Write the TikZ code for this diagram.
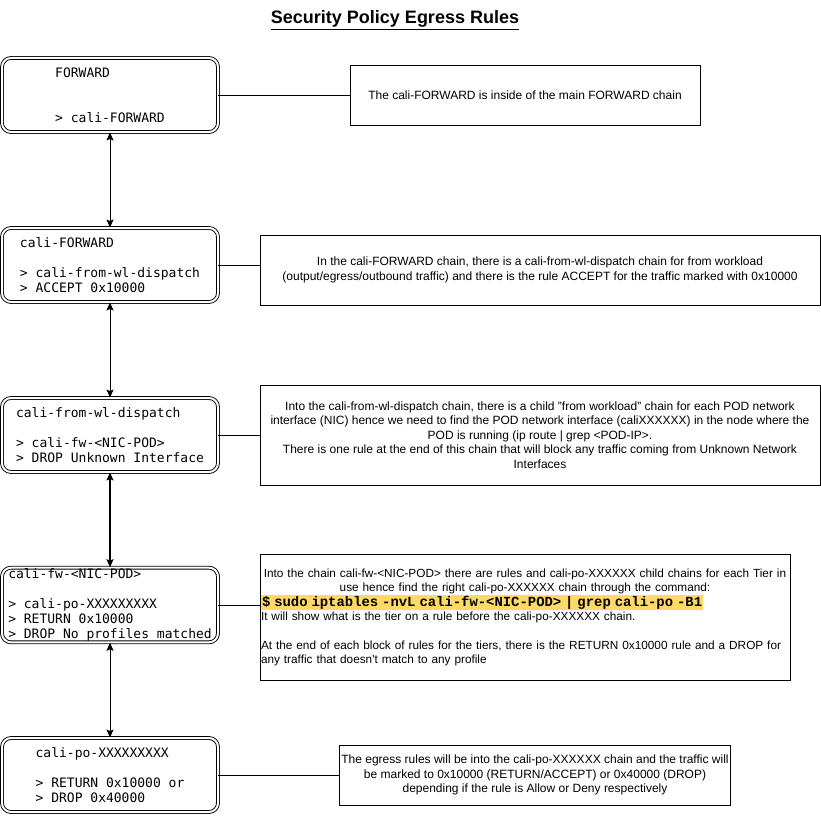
\documentclass[tikz,border=0pt]{standalone}
\usepackage{fontspec}
\setmainfont{Liberation Sans}
\newfontfamily\chainfont{DejaVu Sans Mono}
\newfontfamily\cmdfont{Liberation Mono}
\usetikzlibrary{arrows.meta,positioning}
\definecolor{cmdhl}{HTML}{FFD966}

\begin{document}
\begin{tikzpicture}[
  x=1pt, y=-1pt,
  chainbox/.style={draw, double, double distance=2pt, line width=0.9pt, rounded corners=9pt, minimum width=216pt, minimum height=74pt, inner sep=1pt, align=left, font=\chainfont\fontsize{13}{15}\selectfont},
  note/.style={draw, line width=0.9pt, align=center, inner sep=2pt, font=\fontsize{12}{14.4}\selectfont},
  arr/.style={{Stealth[length=8pt,width=7pt,inset=1.5pt]}-{Stealth[length=8pt,width=7pt,inset=1.5pt]}, line width=0.9pt},
  link/.style={line width=0.9pt},
  node distance=170pt, on grid
]
\useasboundingbox (0,0) rectangle (821,816);
\node[font=\bfseries\fontsize{18}{22}\selectfont] (title) at (395,20) {\underline{Security Policy Egress Rules}};

\node[chainbox] (fwd) at (110,95) {FORWARD\\[30pt]> cali-FORWARD};
\node[chainbox, below=of fwd] (califwd) {cali-FORWARD\\[15pt]> cali-from-wl-dispatch\\> ACCEPT 0x10000};
\node[chainbox, below=of califwd] (dispatch) {cali-from-wl-dispatch\\[15pt]> cali-fw-<NIC-POD>\\> DROP Unknown Interface};
\node[chainbox, below=of dispatch] (fwnic) {cali-fw-<NIC-POD>\\[15pt]> cali-po-XXXXXXXXX\\> RETURN 0x10000\\> DROP No profiles matched};
\node[chainbox, below=of fwnic] (po) {cali-po-XXXXXXXXX\\[15pt]> RETURN 0x10000 or\\> DROP 0x40000};

\node[note, minimum width=350pt, minimum height=60pt, right=415pt of fwd] (fwdnote) {The cali-FORWARD is inside of the main FORWARD chain};
\node[note, minimum width=560pt, minimum height=70pt, right=430pt of califwd, yshift=-5pt] (califwdnote) {In the cali-FORWARD chain, there is a cali-from-wl-dispatch chain for from workload\\(output/egress/outbound traffic) and there is the rule ACCEPT for the traffic marked with 0x10000};
\node[note, minimum width=560pt, minimum height=100pt, right=430pt of dispatch] (dispatchnote) {Into the cali-from-wl-dispatch chain, there is a child "from workload" chain for each POD network\\interface (NIC) hence we need to find the POD network interface (caliXXXXXX) in the node where the\\POD is running (ip route | grep <POD-IP>.\\There is one rule at the end of this chain that will block any traffic coming from Unknown Network\\Interfaces};
\node[note, minimum width=530pt, minimum height=126pt, text width=528pt, align=left, inner xsep=1pt, font=\fontsize{11.8}{14.4}\selectfont, right=415pt of fwnic, yshift=-12.5pt] (fwnicnote) {{\centering Into the chain cali-fw-<NIC-POD> there are rules and cali-po-XXXXXX child chains for each Tier in\\use hence find the right cali-po-XXXXXX chain through the command:\par}
{\setlength{\fboxsep}{1pt}\colorbox{cmdhl}{\cmdfont\bfseries\fontsize{13.9}{14.4}\selectfont \$ sudo iptables -nvL cali-fw-<NIC-POD> | grep cali-po -B1}}\\
It will show what is the tier on a rule before the cali-po-XXXXXX chain.\\[14.4pt]
At the end of each block of rules for the tiers, there is the RETURN 0x10000 rule and a DROP for\\any traffic that doesn\textquotesingle t match to any profile};
\node[note, minimum width=390pt, minimum height=60pt, right=425pt of po] (ponote) {The egress rules will be into the cali-po-XXXXXX chain and the traffic will\\be marked to 0x10000 (RETURN/ACCEPT) or 0x40000 (DROP)\\depending if the rule is Allow or Deny respectively};

\draw[arr] (fwd) -- (califwd);
\draw[arr] (califwd) -- (dispatch);
\draw[arr, line width=1.5pt] (dispatch) -- (fwnic);
\draw[arr] (fwnic) -- (po);
\draw[link] (fwd.east) -- (fwd.east -| fwdnote.west);
\draw[link] (califwd.east) -- (califwd.east -| califwdnote.west);
\draw[link] (dispatch.east) -- (dispatch.east -| dispatchnote.west);
\draw[link] (fwnic.east) -- (fwnic.east -| fwnicnote.west);
\draw[link] (po.east) -- (po.east -| ponote.west);
\end{tikzpicture}
\end{document}
